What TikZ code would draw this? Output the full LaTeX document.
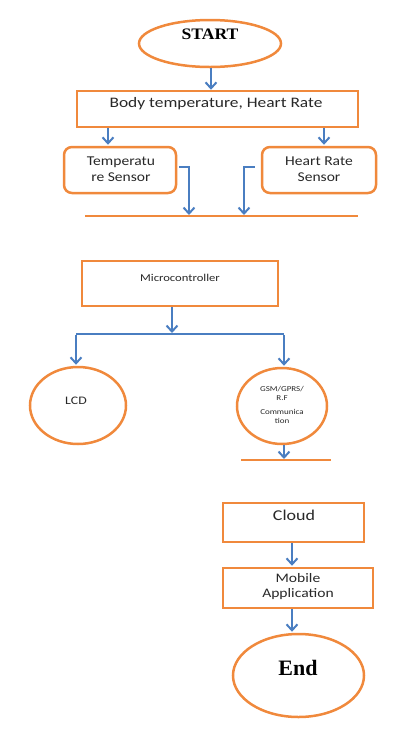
\documentclass[tikz,border=0pt]{standalone}
\usepackage{fontspec}
\setmainfont{Liberation Serif}
\setsansfont{Carlito}
\usetikzlibrary{arrows.meta,shapes.geometric}
\definecolor{orng}{RGB}{240,137,60}
\definecolor{blu}{RGB}{74,126,193}
\definecolor{txt}{RGB}{40,40,40}
\tikzset{
  obox/.style={draw=orng,line width=2.5pt,fill=white,inner sep=0pt},
  rbox/.style={obox,rounded corners=8pt},
  oell/.style={draw=orng,line width=2.5pt,ellipse,inner sep=0pt},
  oline/.style={draw=orng,line width=1.6pt},
  arr/.style={draw=blu,line width=2pt,-{Straight Barb[length=6pt,width=11pt,line width=2pt]}},
  bline/.style={draw=blu,line width=2pt},
  lab/.style={font=\sffamily,text=txt,inner sep=0pt,align=center,xscale=1.2},
}
\begin{document}
\begin{tikzpicture}[x=1pt,y=-1pt]
\useasboundingbox (0,0) rectangle (416,729);
% nodes
\node[oell,minimum width=142,minimum height=47] (start) at (210,43.5) {};
\node[font=\bfseries\fontsize{16}{16}\selectfont,inner sep=0pt,xscale=1.1] (starttxt) at (210,34) {START};
\node[obox,minimum width=281,minimum height=36] (body) at (217.5,109) {};
\node[lab,font=\sffamily\fontsize{14.5}{14.5}\selectfont] (bodytxt) at (216,104) {Body temperature, Heart Rate};
\node[rbox,minimum width=112,minimum height=46] (temp) at (120,170) {};
\node[lab,font=\sffamily\fontsize{13.5}{16.5}\selectfont,xscale=0.96] (temptxt) at (121,169) {Temperatu\\re Sensor};
\node[rbox,minimum width=114,minimum height=46] (heart) at (319,170) {};
\node[lab,font=\sffamily\fontsize{13.5}{16.5}\selectfont,xscale=0.96] (hearttxt) at (319,169) {Heart Rate\\Sensor};
\coordinate (busL) at (85,216);
\coordinate (busR) at (358,216);
\node[obox,minimum width=196,minimum height=45] (micro) at (180,283.5) {};
\node[lab,font=\sffamily\fontsize{10.5}{10.5}\selectfont] (microtxt) at (180,278) {Microcontroller};
\node[oell,minimum width=96,minimum height=77] (lcd) at (78,405.5) {};
\node[lab,font=\sffamily\fontsize{11.5}{11.5}\selectfont] (lcdtxt) at (76,401) {LCD};
\node[oell,minimum width=90,minimum height=76] (gsm) at (282,406) {};
\node[lab,font=\sffamily\fontsize{7.5}{9.5}\selectfont] (gsmtxt) at (282,405) {GSM/GPRS/\\R.F\\[4pt]Communica\\tion};
\coordinate (bus2L) at (241,460);
\coordinate (bus2R) at (331,460);
\node[obox,minimum width=141,minimum height=39] (cloud) at (293.5,522.5) {};
\node[lab,font=\sffamily\fontsize{15}{15}\selectfont] (cloudtxt) at (294,515) {Cloud};
\node[obox,minimum width=150,minimum height=40] (mobile) at (298,588) {};
\node[lab,font=\sffamily\fontsize{13}{15}\selectfont] (mobiletxt) at (298,587) {Mobile\\Application};
\node[oell,minimum width=131,minimum height=83] (end) at (298.5,675.5) {};
\node[font=\bfseries\fontsize{22}{22}\selectfont,inner sep=0pt] (endtxt) at (298,668) {End};
% lines
\draw[oline] (busL) -- (busR);
\draw[oline] (bus2L) -- (bus2R);
% connectors
\coordinate (x1) at (211,0);
\draw[arr] (start.south -| x1) -- (body.north -| x1);
\coordinate (x2) at (108,0);
\draw[arr] (body.south -| x2) -- ([yshift=1pt]temp.north -| x2);
\coordinate (x3) at (324,0);
\draw[arr] (body.south -| x3) -- ([yshift=1pt]heart.north -| x3);
\coordinate (x4) at (189,0);
\draw[arr] ([xshift=2pt,yshift=3pt]temp.east) -- ([yshift=3pt]temp.east -| x4) -- ([yshift=1pt]busL -| x4);
\coordinate (x5) at (244,0);
\draw[arr] ([xshift=-6pt,yshift=3pt]heart.west) -- ([yshift=3pt]heart.west -| x5) -- ([yshift=1pt]busL -| x5);
\coordinate (x6) at (172,0);
\coordinate (j) at (172,334);
\draw[arr] (micro.south -| x6) -- ([yshift=1pt]j);
\coordinate (x7) at (76,0);
\coordinate (x8) at (284,0);
\draw[bline] (j -| x7) -- (j -| x8);
\draw[arr] ([yshift=-1pt]j -| x7) -- ([yshift=1pt]lcd.north -| x7);
\draw[arr] ([yshift=-1pt]j -| x8) -- ([yshift=1pt]gsm.north -| x8);
\draw[arr] (gsm.south -| x8) -- ([yshift=1pt]bus2L -| x8);
\coordinate (x9) at (292,0);
\draw[arr] (cloud.south -| x9) -- ([yshift=1pt]mobile.north -| x9);
\draw[arr] (mobile.south -| x9) -- ([yshift=1pt]end.north -| x9);
\end{tikzpicture}
\end{document}
